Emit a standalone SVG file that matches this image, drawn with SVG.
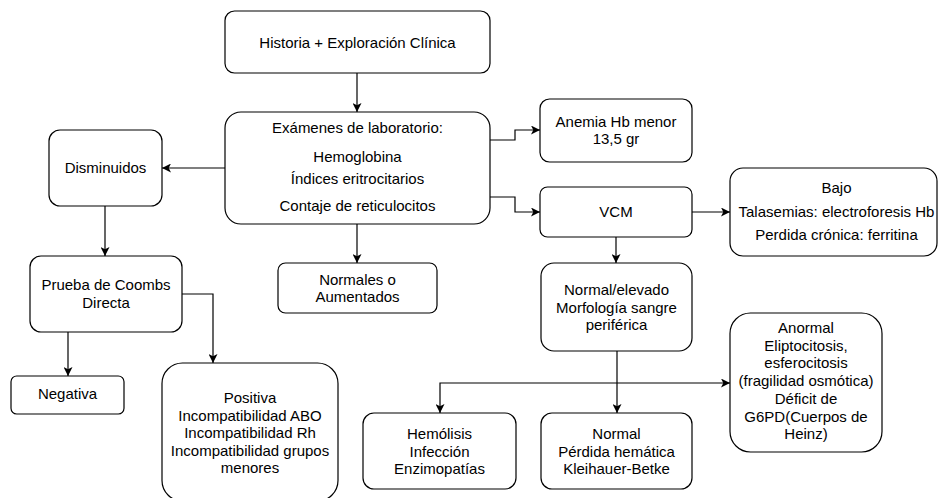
<svg xmlns="http://www.w3.org/2000/svg" width="938" height="498" viewBox="0 0 938 498">
  <style>
    .box { fill: #ffffff; stroke: #000000; stroke-width: 1.2; }
    .lbl { font-family: "Liberation Sans", Arial, Helvetica, sans-serif; font-size: 15px; fill: #000000; text-anchor: middle; }
    .edge { fill: none; stroke: #000000; stroke-width: 1.2; marker-end: url(#arrow); }
  </style>
  <defs>
    <marker id="arrow" markerUnits="userSpaceOnUse" markerWidth="10" markerHeight="9" refX="9" refY="4.5" orient="auto">
      <path d="M0,0 L9,4.5 L0,9 L2.3,4.5 Z" fill="#000000"/>
    </marker>
  </defs>
  <rect width="938" height="498" fill="#ffffff"/>

  <!-- connectors -->
  <g id="connectors">
    <path class="edge" d="M357,73 V112"/>
    <path class="edge" d="M225,168 H162"/>
    <path class="edge" d="M490,140 H515 V130 H540"/>
    <path class="edge" d="M490,197 H515 V212 H540"/>
    <path class="edge" d="M357,224 V263"/>
    <path class="edge" d="M105,206 V256"/>
    <path class="edge" d="M68,332 V376"/>
    <path class="edge" d="M182,294 H213 V363"/>
    <path class="edge" d="M692,212 H730"/>
    <path class="edge" d="M616,237 V263"/>
    <path class="edge" d="M617,351 V413"/>
    <path class="edge" d="M617,383 H440 V413"/>
    <path class="edge" d="M617,383 H730"/>
  </g>

  <!-- nodes -->
  <g id="historia">
    <rect class="box" x="225" y="11" width="265" height="62" rx="9.5"/>
    <text class="lbl" x="357.5" y="48">Historia + Exploración Clínica</text>
  </g>

  <g id="examenes">
    <rect class="box" x="225" y="112" width="265" height="112" rx="16"/>
    <text class="lbl" x="357.5" y="133">Exámenes de laboratorio:</text>
    <text class="lbl" x="357.5" y="162">Hemoglobina</text>
    <text class="lbl" x="357.5" y="184">Índices eritrocitarios</text>
    <text class="lbl" x="357.5" y="211">Contaje de reticulocitos</text>
  </g>

  <g id="disminuidos">
    <rect class="box" x="49" y="130" width="113" height="76" rx="11"/>
    <text class="lbl" x="105.5" y="173">Disminuidos</text>
  </g>

  <g id="anemia">
    <rect class="box" x="540" y="99" width="152" height="63" rx="9.5"/>
    <text class="lbl" x="616" y="127">Anemia Hb menor</text>
    <text class="lbl" x="616" y="144">13,5 gr</text>
  </g>

  <g id="vcm">
    <rect class="box" x="540" y="187" width="152" height="50" rx="7.5"/>
    <text class="lbl" x="616" y="217">VCM</text>
  </g>

  <g id="bajo">
    <rect class="box" x="730" y="168" width="207" height="88" rx="13"/>
    <text class="lbl" x="836.5" y="193">Bajo</text>
    <text class="lbl" x="836.5" y="217">Talasemias: electroforesis Hb</text>
    <text class="lbl" x="836.5" y="240">Perdida crónica: ferritina</text>
  </g>

  <g id="normales">
    <rect class="box" x="278" y="263" width="159" height="50" rx="7.5"/>
    <text class="lbl" x="357.5" y="285">Normales o</text>
    <text class="lbl" x="357.5" y="302">Aumentados</text>
  </g>

  <g id="coombs">
    <rect class="box" x="30" y="256" width="152" height="76" rx="11"/>
    <text class="lbl" x="106" y="290">Prueba de Coombs</text>
    <text class="lbl" x="106" y="308">Directa</text>
  </g>

  <g id="negativa">
    <rect class="box" x="11" y="376" width="113" height="38" rx="5.7"/>
    <text class="lbl" x="67.5" y="399">Negativa</text>
  </g>

  <g id="positiva">
    <rect class="box" x="162" y="363" width="176" height="138" rx="20.5"/>
    <text class="lbl" x="250" y="403">Positiva</text>
    <text class="lbl" x="250" y="420.5">Incompatibilidad ABO</text>
    <text class="lbl" x="250" y="438">Incompatibilidad Rh</text>
    <text class="lbl" x="250" y="455.5">Incompatibilidad grupos</text>
    <text class="lbl" x="250" y="473">menores</text>
  </g>

  <g id="normal-elevado">
    <rect class="box" x="541" y="263" width="151" height="88" rx="13"/>
    <text class="lbl" x="616.5" y="295">Normal/elevado</text>
    <text class="lbl" x="616.5" y="313">Morfología sangre</text>
    <text class="lbl" x="616.5" y="330">periférica</text>
  </g>

  <g id="anormal">
    <rect class="box" x="730" y="313" width="152" height="139" rx="20.5"/>
    <text class="lbl" x="806" y="333">Anormal</text>
    <text class="lbl" x="806" y="350.7">Eliptocitosis,</text>
    <text class="lbl" x="806" y="368.4">esferocitosis</text>
    <text class="lbl" x="806" y="386">(fragilidad osmótica)</text>
    <text class="lbl" x="806" y="403.8">Déficit de</text>
    <text class="lbl" x="806" y="421.5">G6PD(Cuerpos de</text>
    <text class="lbl" x="806" y="439">Heinz)</text>
  </g>

  <g id="hemolisis">
    <rect class="box" x="363" y="413" width="153" height="76" rx="11"/>
    <text class="lbl" x="439.5" y="439">Hemólisis</text>
    <text class="lbl" x="439.5" y="457">Infección</text>
    <text class="lbl" x="439.5" y="474">Enzimopatías</text>
  </g>

  <g id="normal">
    <rect class="box" x="541" y="413" width="151" height="76" rx="11"/>
    <text class="lbl" x="616.5" y="439">Normal</text>
    <text class="lbl" x="616.5" y="457">Pérdida hemática</text>
    <text class="lbl" x="616.5" y="474">Kleihauer-Betke</text>
  </g>
</svg>
